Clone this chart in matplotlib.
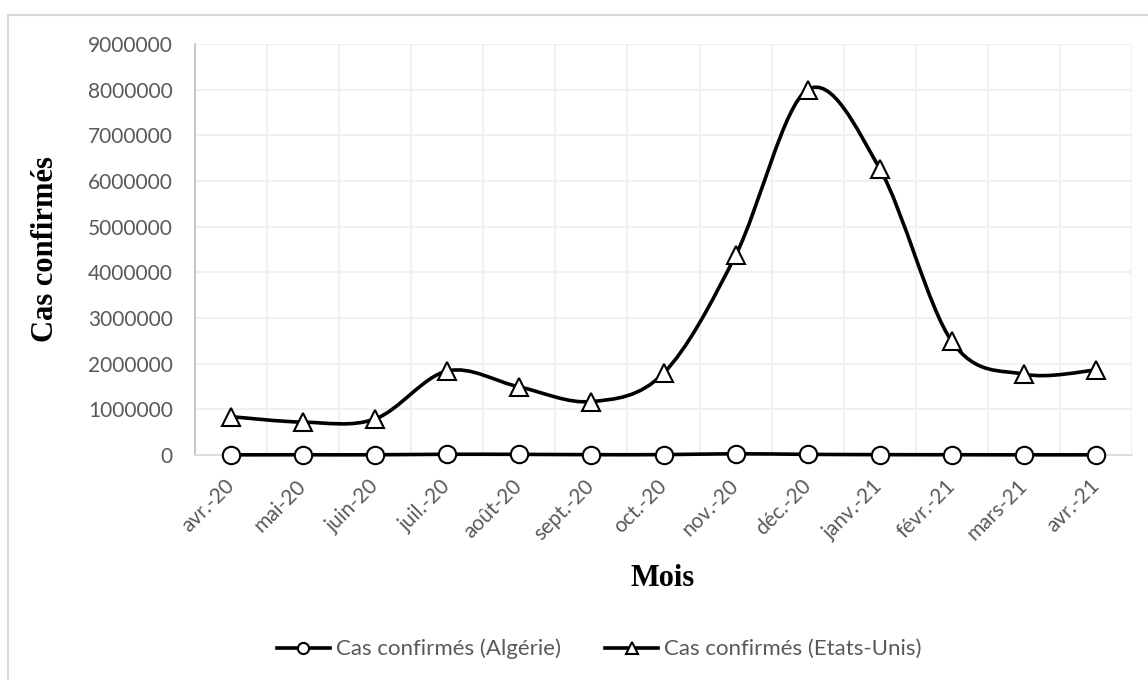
import matplotlib
matplotlib.use('Agg')

import matplotlib.pyplot as plt
import numpy as np
from matplotlib.path import Path
from matplotlib.patches import PathPatch, Rectangle
from matplotlib.lines import Line2D

# Data
months = ["avr.-20", "mai-20", "juin-20", "juil.-20", "août-20", "sept.-20", "oct.-20",
          "nov.-20", "déc.-20", "janv.-21", "févr.-21", "mars-21", "avr.-21"]
cas_algerie = [3500, 5000, 4500, 16000, 14000, 7000, 8000, 27000, 14000, 7500, 5500, 3600, 4000]
cas_usa = [840000, 720000, 790000, 1840000, 1490000, 1170000, 1790000,
           4370000, 8000000, 6270000, 2490000, 1770000, 1860000]

label_algerie = "Cas confirmés (Algérie)"
label_usa = "Cas confirmés (Etats-Unis)"
y_ticks = np.arange(0, 9000001, 1000000)

TICK_FONT = "Lato"
TITLE_FONT = "Liberation Serif"
GREY = "#595959"


def smooth_path(x, y):
    """Excel-like smoothed line: cubic Bezier segments (Catmull-Rom control points)."""
    n = len(x)
    verts = [(x[0], y[0])]
    codes = [Path.MOVETO]
    for i in range(n - 1):
        a = max(i - 1, 0)
        b = min(i + 2, n - 1)
        c1 = (x[i] + (x[i + 1] - x[a]) / 6.0, y[i] + (y[i + 1] - y[a]) / 6.0)
        c2 = (x[i + 1] - (x[b] - x[i]) / 6.0, y[i + 1] - (y[b] - y[i]) / 6.0)
        verts += [c1, c2, (x[i + 1], y[i + 1])]
        codes += [Path.CURVE4] * 3
    return Path(verts, codes)


fig = plt.figure(figsize=(11.48, 6.8), dpi=100)
ax = fig.add_axes([195 / 1148, 1 - 455 / 680, (1132 - 195) / 1148, (455 - 44) / 680])

x = np.arange(len(months))

for values, marker, ms in [(cas_usa, "^", 12.5), (cas_algerie, "o", 12.5)]:
    ax.add_patch(PathPatch(smooth_path(x, values), fill=False, edgecolor="black",
                           lw=2.6, zorder=3, capstyle="round", clip_on=False))
    ax.plot(x, values, ls="none", marker=marker, ms=ms, mfc="white", mec="black",
            mew=1.5, zorder=4, clip_on=False)

ax.set_xlim(-0.5, len(months) - 0.5)
ax.set_ylim(0, 9000000)
ax.set_yticks(y_ticks)
ax.set_yticklabels([str(v) for v in y_ticks], fontfamily=TICK_FONT, fontsize=15, color=GREY)
ax.set_xticks(x)
ax.set_xticklabels(months, rotation=45, ha="right", va="center", rotation_mode="anchor",
                   fontfamily=TICK_FONT, fontsize=15, color=GREY)
ax.set_xticks(np.arange(-0.5, len(months), 1), minor=True)
ax.tick_params(axis="both", which="both", length=0)
ax.tick_params(axis="y", pad=16)
ax.tick_params(axis="x", pad=20)

ax.grid(axis="y", which="major", color="#f0f0f0", lw=1.5)
ax.grid(axis="x", which="minor", color="#f0f0f0", lw=1.5)
ax.set_axisbelow(True)

for side in ["top", "right"]:
    ax.spines[side].set_visible(False)
ax.spines["left"].set_color("#bfbfbf")
ax.spines["bottom"].set_color("#d9d9d9")
ax.spines["left"].set_linewidth(1.2)
ax.spines["bottom"].set_linewidth(1.2)

ax.set_ylabel("Cas confirmés", fontfamily=TITLE_FONT, fontweight="bold", fontsize=22)
ax.yaxis.set_label_coords((60 - 195) / (1132 - 195), 0.5)
fig.text(663 / 1148, 1 - 578 / 680, "Mois", fontfamily=TITLE_FONT, fontweight="bold",
         fontsize=22, ha="center", va="center")

handles = [
    Line2D([], [], color="black", lw=2.6, marker="o", ms=8, mfc="white", mec="black", mew=1.5),
    Line2D([], [], color="black", lw=2.6, marker="^", ms=8, mfc="white", mec="black", mew=1.5),
]
leg = fig.legend(handles, [label_algerie, label_usa], loc="center",
                 bbox_to_anchor=(599 / 1148, 1 - 649 / 680), ncol=2, frameon=False,
                 handlelength=2.4, handletextpad=0.25, columnspacing=2.0,
                 prop={"family": TICK_FONT, "size": 16})
for t in leg.get_texts():
    t.set_color(GREY)

# Light border around the chart area
fig.patches.append(Rectangle((8 / 1148, -0.1), 1.2, 1.1 - 15 / 680, transform=fig.transFigure,
                             fill=False, edgecolor="#d9d9d9", lw=1.5))

fig.savefig("out.png", dpi=100)
